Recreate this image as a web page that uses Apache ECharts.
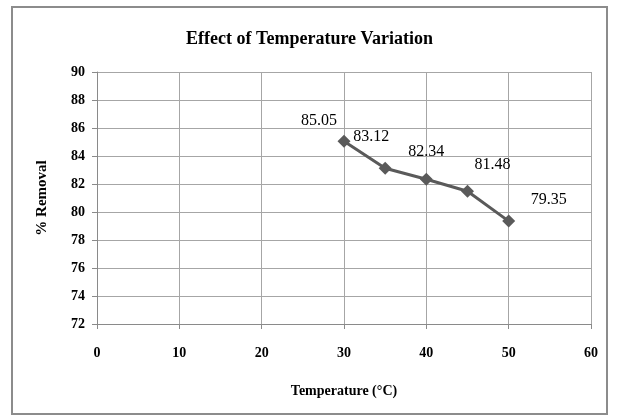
<!DOCTYPE html>
<html>
<head>
<meta charset="utf-8">
<script src="https://cdn.jsdelivr.net/npm/echarts@6/dist/echarts.min.js"></script>
<style>html,body{margin:0;padding:0;background:#fff;}#c{width:619px;height:420px;}</style>
</head>
<body>
<div id="c"></div>
<script>
var temperatures = [30, 35, 40, 45, 50];
var removal = [85.05, 83.12, 82.34, 81.48, 79.35];
var xTicks = [0, 10, 20, 30, 40, 50, 60];
var yTicks = [72, 74, 76, 78, 80, 82, 84, 86, 88, 90];
var labelOffsets = [[-25, -21], [-14, -32], [0, -27], [25, -26], [40, -21]];

var font = 'Liberation Serif, Times New Roman, serif';
var chart = echarts.init(document.getElementById('c'), null, {renderer: 'canvas'});
var seriesData = temperatures.map(function (t, i) {
  return {
    value: [t, removal[i]],
    label: {offset: labelOffsets[i]}
  };
});
chart.setOption({
  backgroundColor: '#ffffff',
  animation: false,
  graphic: [{
    type: 'rect',
    shape: {x: 12, y: 7, width: 595, height: 407},
    style: {fill: 'none', stroke: '#8c8c8c', lineWidth: 2},
    silent: true
  }],
  title: {
    text: 'Effect of Temperature Variation',
    left: 'center',
    top: 25,
    textStyle: {fontFamily: font, fontWeight: 'bold', fontSize: 18, color: '#000'}
  },
  grid: {left: 97, right: 28, top: 72, bottom: 96, containLabel: false},
  xAxis: {
    type: 'value',
    min: xTicks[0],
    max: xTicks[xTicks.length - 1],
    interval: 10,
    name: 'Temperature (\u00B0C)',
    nameLocation: 'middle',
    nameGap: 60,
    nameTextStyle: {fontFamily: font, fontWeight: 'bold', fontSize: 14, color: '#000'},
    axisLine: {show: true, lineStyle: {color: '#8a8a8a', width: 1}},
    axisTick: {show: true, inside: false, length: 5, lineStyle: {color: '#8a8a8a'}},
    axisLabel: {fontFamily: font, fontWeight: 'bold', fontSize: 14, color: '#000', margin: 22},
    splitLine: {show: true, lineStyle: {color: '#a6a6a6', width: 1}}
  },
  yAxis: {
    type: 'value',
    min: yTicks[0],
    max: yTicks[yTicks.length - 1],
    interval: 2,
    name: '% Removal',
    nameLocation: 'middle',
    nameGap: 47,
    nameRotate: 90,
    nameTextStyle: {fontFamily: font, fontWeight: 'bold', fontSize: 15, color: '#000'},
    axisLine: {show: true, lineStyle: {color: '#8a8a8a', width: 1}},
    axisTick: {show: true, inside: false, length: 5, lineStyle: {color: '#8a8a8a'}},
    axisLabel: {fontFamily: font, fontWeight: 'bold', fontSize: 14, color: '#000', margin: 12},
    splitLine: {show: true, lineStyle: {color: '#a6a6a6', width: 1}}
  },
  series: [{
    type: 'line',
    data: seriesData,
    symbol: 'diamond',
    symbolSize: 13,
    itemStyle: {color: '#5a5a5a'},
    lineStyle: {color: '#5a5a5a', width: 3},
    label: {
      show: true,
      position: 'inside',
      fontFamily: font,
      fontSize: 16,
      color: '#000',
      formatter: function (p) { return p.value[1].toFixed(2); }
    }
  }]
});
</script>
</body>
</html>
